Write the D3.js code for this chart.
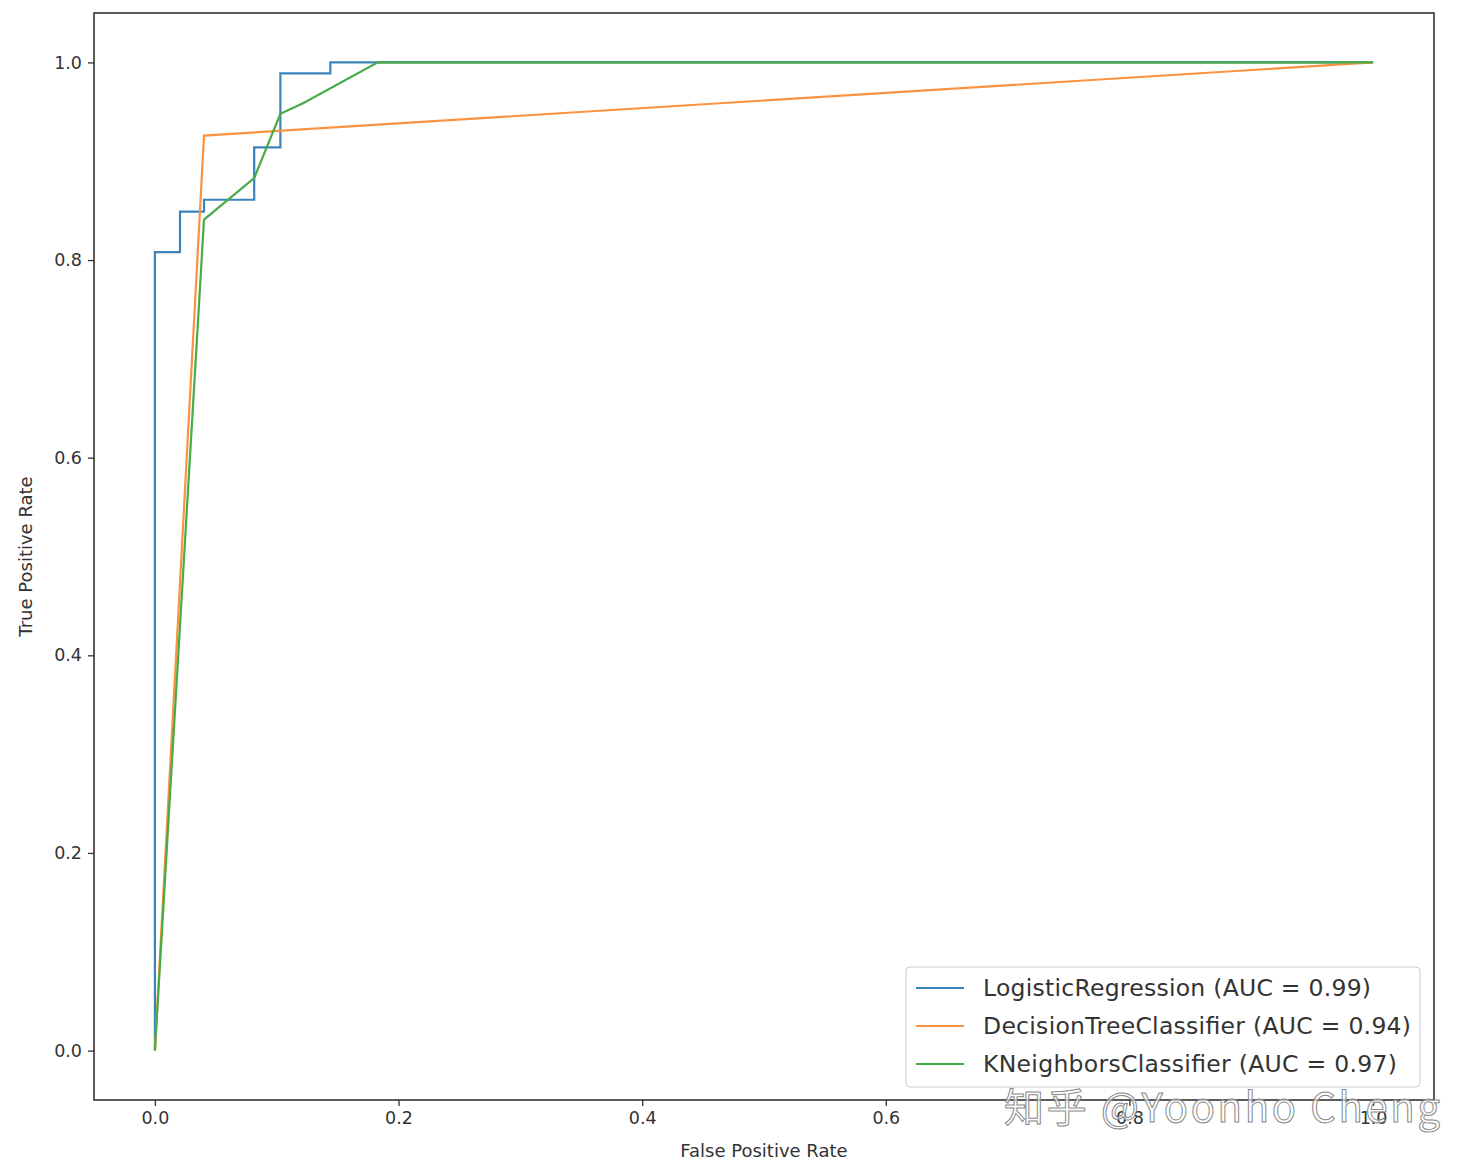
<!DOCTYPE html>
<html><head><meta charset="utf-8">
<script src="https://cdn.jsdelivr.net/npm/d3@7"></script>
<style>body{margin:0;background:#fff}</style>
</head><body><svg id="chart" width="1477" height="1175"></svg>
<script>
// ROC curve points (FPR, TPR)
const seriesNames = ["LogisticRegression (AUC = 0.99)", "DecisionTreeClassifier (AUC = 0.94)", "KNeighborsClassifier (AUC = 0.97)"];
const seriesColors = ["#3a84bb", "#fb923f", "#47ab47"];
const logisticFpr = [0, 0, 0, 0.0206, 0.0206, 0.0403, 0.0403, 0.0815, 0.0815, 0.103, 0.103, 0.144, 0.144, 1];
const logisticTpr = [0, 0.808, 0.808, 0.808, 0.849, 0.849, 0.861, 0.861, 0.914, 0.914, 0.989, 0.989, 1, 1];
const treeFpr = [0, 0.0403, 1];
const treeTpr = [0, 0.926, 1];
const knnFpr = [0, 0.0403, 0.0815, 0.103, 0.122, 0.183, 1];
const knnTpr = [0, 0.841, 0.883, 0.948, 0.959, 1, 1];
const ticks = [0, 0.2, 0.4, 0.6, 0.8, 1.0];

const svg = d3.select("#chart");
const plotLeft = 94, plotRight = 1434, plotTop = 13, plotBottom = 1100;
const x = d3.scaleLinear().domain([-0.05, 1.05]).range([plotLeft, plotRight]);
const y = d3.scaleLinear().domain([-0.05, 1.05]).range([plotBottom, plotTop]);
const font = "DejaVu Sans, sans-serif";

const series = [[logisticFpr, logisticTpr], [treeFpr, treeTpr], [knnFpr, knnTpr]];
const line = d3.line().x(d => x(d[0])).y(d => y(d[1]));
series.forEach(([fx, ty], i) => {
  svg.append("path")
    .attr("d", line(fx.map((v, j) => [v, ty[j]])))
    .attr("fill", "none").attr("stroke", seriesColors[i]).attr("stroke-width", 2.2);
});

const xAxis = svg.append("g").attr("transform", `translate(0,${plotBottom})`)
  .call(d3.axisBottom(x).tickValues(ticks).tickFormat(d3.format(".1f")).tickSize(6).tickPadding(6));
const yAxis = svg.append("g").attr("transform", `translate(${plotLeft},0)`)
  .call(d3.axisLeft(y).tickValues(ticks).tickFormat(d3.format(".1f")).tickSize(6).tickPadding(6));
[xAxis, yAxis].forEach(a => {
  a.select(".domain").remove();
  a.selectAll("text").attr("font-family", font).attr("font-size", 17.5).attr("fill", "#333");
  a.selectAll("line").attr("stroke", "#333").attr("stroke-width", 1.3);
});

svg.append("rect").attr("x", plotLeft).attr("y", plotTop).attr("width", plotRight - plotLeft).attr("height", plotBottom - plotTop)
  .attr("fill", "none").attr("stroke", "#333").attr("stroke-width", 1.6);

svg.append("text").attr("x", (plotLeft + plotRight) / 2).attr("y", 1157).attr("text-anchor", "middle")
  .attr("font-family", font).attr("font-size", 18).attr("fill", "#333").text("False Positive Rate");
svg.append("text").attr("transform", `translate(32,${(plotTop + plotBottom) / 2}) rotate(-90)`).attr("text-anchor", "middle")
  .attr("font-family", font).attr("font-size", 18).attr("fill", "#333").text("True Positive Rate");

// legend
const lg = svg.append("g").attr("transform", "translate(906,967)");
lg.append("rect").attr("width", 514).attr("height", 120).attr("rx", 4)
  .attr("fill", "white").attr("fill-opacity", 0.8).attr("stroke", "#ccc");
seriesNames.forEach((name, i) => {
  const yy = 21 + i * 38;
  lg.append("line").attr("x1", 10).attr("x2", 58).attr("y1", yy).attr("y2", yy)
    .attr("stroke", seriesColors[i]).attr("stroke-width", 2.2);
  lg.append("text").attr("x", 77).attr("y", yy).attr("dy", "0.35em")
    .attr("font-family", font).attr("font-size", 23.5).attr("fill", "#333")
    .attr("textLength", [388, 428, 414][i]).text(name);
});

// watermark
svg.append("text").attr("x", 1440).attr("y", 1122).attr("text-anchor", "end")
  .attr("font-family", "Noto Sans CJK SC, sans-serif").attr("font-size", 40)
  .attr("fill", "white").attr("fill-opacity", 0.6).attr("stroke", "#888").attr("stroke-width", 1)
  .attr("textLength", 436).text("知乎 @Yoonho Cheng");
</script></body></html>
